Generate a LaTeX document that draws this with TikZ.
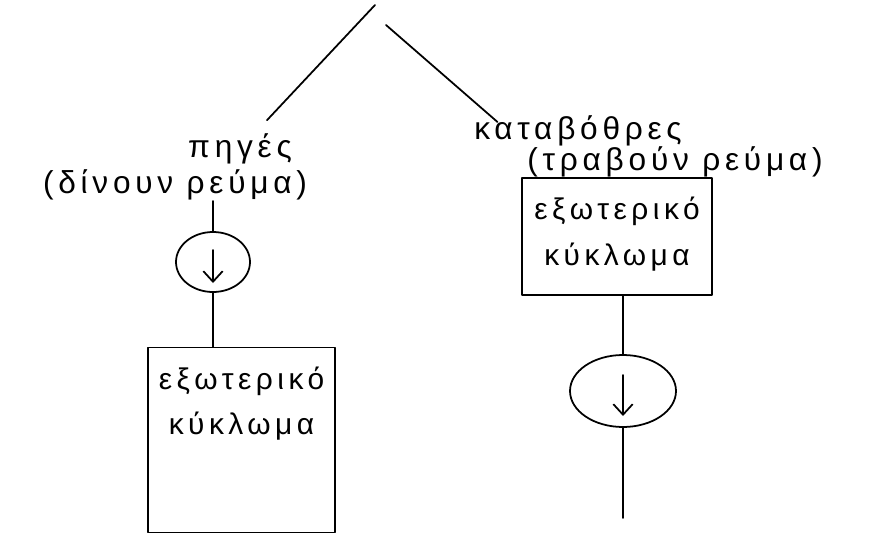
\documentclass[tikz,border=0pt]{standalone}
\usepackage{fontspec}
\setmainfont{Liberation Sans}
\newfontfamily\hand[LetterSpace=15]{Liberation Sans}
\usetikzlibrary{shapes.geometric,arrows.meta}

\tikzset{
  sketch/.style={line width=1pt, line cap=round, line join=round},
  lbl/.style={font=\hand\fontsize{18}{22}\selectfont, inner sep=0pt},
  boxtxt/.style={font=\hand\fontsize{17}{26}\selectfont, align=center, inner sep=0pt},
  blockbox/.style={draw, sketch},
  meter/.style={draw, sketch, ellipse, inner sep=0pt},
}

\begin{document}
\begin{tikzpicture}[sketch, >={Straight Barb[length=6pt,width=11pt]}]
  \useasboundingbox (0,0) rectangle (17.52,10.84);

  % the two branches
  \coordinate (apexL) at (7.5,10.74);
  \coordinate (apexR) at (7.72,10.34);
  \coordinate (brR) at (9.95,8.4);
  \node[lbl] (pigesA) at (4.8,7.86) {πηγές};
  \node[lbl] (pigesB) at (3.5,7.14) {(δίνουν ρεύμα)};
  \node[lbl] (kataA) at (11.56,8.22) {καταβόθρες};
  \node[lbl] (kataB) at (13.5,7.6) {(τραβούν ρεύμα)};
  \draw[shorten >=0.35cm] (apexL) -- (pigesA);
  \draw (apexR) -- (brR);

  % left side: source then circuit
  \node[meter, minimum width=1.48cm, minimum height=1.2cm] (srcM) at (4.26,5.6) {};
  \draw (pigesB.south -| srcM) -- (srcM.north);
  \draw[->] ([yshift=0.24cm]srcM.center) -- ([yshift=-0.42cm]srcM.center);
  \node[blockbox, minimum width=3.75cm, minimum height=3.7cm] (srcBox) at (4.83,2.04) {};
  \node[boxtxt, anchor=north] (srcTxt) at ([yshift=-0.38cm]srcBox.north) {εξωτερικό\\κύκλωμα};
  \draw (srcM.south) -- (srcM.south |- srcBox.north);

  % right side: circuit then sink
  \node[blockbox, minimum width=3.8cm, minimum height=2.34cm] (sinkBox) at (12.34,6.11) {};
  \node[boxtxt, anchor=north] (sinkTxt) at ([yshift=-0.38cm]sinkBox.north) {εξωτερικό\\κύκλωμα};
  \node[meter, minimum width=2.12cm, minimum height=1.44cm] (sinkM) at (12.46,3.02) {};
  \draw (sinkBox.south -| sinkM) -- (sinkM.north);
  \draw[->] ([yshift=0.32cm]sinkM.center) -- ([yshift=-0.5cm]sinkM.center);
  \coordinate (sinkEnd) at (12.46,0.48);
  \draw (sinkM.south) -- (sinkEnd);
\end{tikzpicture}
\end{document}
